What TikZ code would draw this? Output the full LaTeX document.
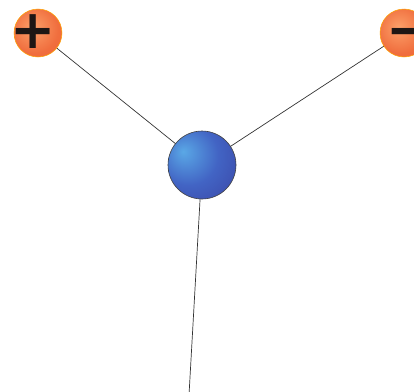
\documentclass[tikz,border=0pt]{standalone}
\usepackage{fontspec}
\newfontfamily\signfont{DejaVu Sans}
\definecolor{bbhi}{RGB}{90,168,230}
\definecolor{bbmid}{RGB}{66,100,196}
\definecolor{bbedge}{RGB}{56,62,158}
\definecolor{obhi}{RGB}{252,160,105}
\definecolor{obmid}{RGB}{240,110,62}
\definecolor{obedge}{RGB}{236,96,50}
\definecolor{signdark}{RGB}{30,22,20}
\pgfdeclareradialshading{blueballshade}{\pgfpoint{-14bp}{10bp}}{color(0bp)=(bbhi); color(22bp)=(bbmid); color(50bp)=(bbedge); color(80bp)=(bbedge)}
\pgfdeclareradialshading{orangeballshade}{\pgfpoint{-6bp}{6bp}}{color(0bp)=(obhi); color(25bp)=(obmid); color(50bp)=(obedge); color(80bp)=(obedge)}
\begin{document}
\begin{tikzpicture}[x=1pt,y=-1pt]
\tikzset{
  bond/.style={draw=black!80, line width=0.7pt},
  centerball/.style={circle, minimum size=68pt, inner sep=0pt, draw=black!75, line width=0.6pt, shading=blueballshade},
  chargeball/.style={circle, minimum size=48pt, inner sep=0pt, draw=orange!70!yellow, line width=0.5pt, shading=orangeballshade},
  signtext/.style={text=signdark, font=\signfont\bfseries\fontsize{54}{54}\selectfont, inner sep=0pt}
}
\useasboundingbox (0,0) rectangle (414,391);
\coordinate (c) at (202,165);
\coordinate (bottom) at (189,395);
\coordinate (pc) at (38,33);
\coordinate (mc) at (404,33);
\draw[bond] (pc) -- (c);
\draw[bond] (mc) -- (c);
\draw[bond] (c) -- (bottom);
\node[chargeball] (plus) at (pc) {};
\node[chargeball] (minus) at (mc) {};
\node[centerball] (center) at (c) {};
\node[signtext] (plussign) at (33,32) {+};
\node[signtext] (minussign) at (409,38) {−};
\end{tikzpicture}
\end{document}
